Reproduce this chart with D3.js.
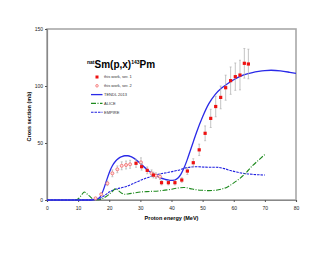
<!DOCTYPE html>
<html>
<head>
<meta charset="utf-8">
<script src="https://cdn.jsdelivr.net/npm/d3@7"></script>
<style>
  body { margin: 0; background: #fff; }
  text { font-family: "Liberation Sans", Arial, sans-serif; fill: #000; }
</style>
</head>
<body>
<div id="chart"></div>
<script>
// experimental data, this work (ser. 1 and ser. 2)
var ser1E   = [28.6, 30.4, 32.2, 34.2, 36.8, 39.0, 41.1, 43.3, 45.1, 47.0, 48.9, 50.8, 52.6, 54.2, 55.8, 57.4, 59.0, 60.5, 62.0, 63.4, 64.7];
var ser1Cs  = [32.2, 29.2, 26.0, 21.9, 15.2, 15.2, 15.2, 17.5, 25.4, 32.7, 44.0, 58.5, 71.6, 82.0, 90.0, 98.5, 104.7, 108.2, 109.6, 119.9, 119.3];
var ser1Err = [3.5, 3, 3, 2.5, 2, 2, 2, 2, 3, 3.5, 5, 6.5, 8, 9, 10, 11, 12, 12, 13, 13, 13];

var ser2E   = [15.6, 17.4, 19.4, 21.0, 22.6, 24.0, 25.4, 26.7, 30.2, 33.6, 35.0, 36.3];
var ser2Cs  = [1.5, 5.0, 14.6, 23.4, 26.9, 30.0, 30.7, 31.3, 33.0, 23.4, 21.3, 20.5];
var ser2Err = [0.5, 1, 2, 3, 3, 3.5, 3.5, 3.5, 4, 3, 2.5, 2.5];

// model curves
var tendlE  = [0, 10, 14, 15, 16, 17, 18, 19, 20, 21, 22, 23, 24, 25, 26, 27, 28, 30, 32, 34, 36, 38, 39.5, 41, 42, 43, 44, 45, 46, 47, 48, 50, 52, 54, 56, 58, 60, 63, 66, 68, 70, 72, 75, 78, 80];
var tendlCs = [0, 0, 0, 0.3, 0.8, 2.5, 8, 16, 24, 30, 34, 36.5, 38, 38.8, 38.8, 38, 36.5, 32, 27, 23, 20, 18, 17.3, 17.5, 19, 22.5, 28, 35, 43, 51, 59, 73, 84.5, 92.5, 98, 102, 105.5, 109.5, 111.8, 112.8, 113.5, 113.8, 113.3, 112, 111];

var aliceE  = [9, 10, 11, 12, 13, 14, 15, 16, 17, 18, 19, 20, 21, 22, 23, 24, 25, 26, 28, 30, 33, 36, 39, 42, 44, 46, 48, 50, 52, 54, 56, 58, 60, 62, 64, 66, 68, 70];
var aliceCs = [0, 1, 4, 7, 5, 2.5, 0.5, 0.2, 0.5, 1.5, 3, 5, 7.5, 10, 8, 6, 5, 5.3, 6.2, 7, 7.5, 8, 9, 10.5, 11, 10, 9, 8.5, 8.2, 8.5, 9.5, 11.5, 15, 19, 24, 30, 35, 40];

var empireE  = [0, 10, 14, 15, 16, 17, 18, 20, 22, 24.5, 27, 29, 31, 33, 35, 37.5, 40, 42, 45, 48, 51, 54.5, 57, 59, 61, 63, 66, 70];
var empireCs = [0, 0, 0, 0.3, 0.8, 1.5, 3, 7, 9.5, 11.1, 13.5, 16, 18.3, 20.3, 22, 23.5, 24.8, 26, 28.4, 29.2, 28.8, 28.7, 27.5, 25.8, 24.5, 23.4, 22.5, 21.9];

var xTicks = [0, 10, 20, 30, 40, 50, 60, 70, 80];
var yTicks = [0, 50, 100, 150];

var legendItems = [
    {label: "this work, ser. 1", kind: "ser1"},
    {label: "this work, ser. 2", kind: "ser2"},
    {label: "TENDL 2013", kind: "tendl"},
    {label: "ALICE", kind: "alice"},
    {label: "EMPIRE", kind: "empire"}
];

var width = 330, height = 255;
var margin = {top: 29, right: 34, bottom: 55, left: 47};

var svg = d3.select("#chart").append("svg")
    .attr("width", width)
    .attr("height", height);

var x = d3.scaleLinear().domain([0, 80]).range([margin.left, width - margin.right]);
var y = d3.scaleLinear().domain([0, 150]).range([height - margin.bottom, margin.top]);

// frame of plot area
svg.append("rect")
    .attr("x", x(0))
    .attr("y", y(150))
    .attr("width", x(80) - x(0))
    .attr("height", y(0) - y(150))
    .attr("fill", "none")
    .attr("stroke", "#a8a8a8")
    .attr("stroke-width", 1.6);

// axes
var xAxis = d3.axisBottom(x).tickValues(xTicks).tickSize(2).tickFormat(d3.format("d"));
var yAxis = d3.axisLeft(y).tickValues(yTicks).tickSize(2).tickFormat(d3.format("d"));

svg.append("g")
    .attr("transform", "translate(0," + y(0) + ")")
    .call(xAxis)
    .call(function(g) {
        g.select(".domain").attr("stroke", "#888").attr("stroke-width", 1.2);
        g.selectAll(".tick line").attr("stroke", "#555");
        g.selectAll("text").attr("font-size", 5).attr("dy", "0.9em").style("fill", "#222");
    });

svg.append("g")
    .attr("transform", "translate(" + x(0) + ",0)")
    .call(yAxis)
    .call(function(g) {
        g.select(".domain").attr("stroke", "#888").attr("stroke-width", 1.2);
        g.selectAll(".tick line").attr("stroke", "#555");
        g.selectAll("text").attr("font-size", 5).attr("x", -4).style("fill", "#222");
    });

// axis titles
svg.append("text")
    .attr("x", (x(0) + x(80)) / 2)
    .attr("y", 220)
    .attr("text-anchor", "middle")
    .attr("font-size", 5.5)
    .attr("font-weight", "bold")
    .text("Proton energy (MeV)");

svg.append("text")
    .attr("transform", "translate(31," + (y(75) + 2) + ") rotate(-90)")
    .attr("text-anchor", "middle")
    .attr("font-size", 5.5)
    .attr("font-weight", "bold")
    .text("Cross section (mb)");

// title
var title = svg.append("text")
    .attr("x", 87)
    .attr("y", 68)
    .attr("font-size", 10)
    .attr("font-weight", "600");
title.append("tspan").attr("font-size", 5).attr("dy", -3.8).text("nat");
title.append("tspan").attr("dy", 3.8).text("Sm(p,x)");
title.append("tspan").attr("font-size", 5).attr("dy", -3.8).text("143");
title.append("tspan").attr("dy", 3.8).text("Pm");

// model curves
var line = d3.line()
    .x(function(d) { return x(d[0]); })
    .y(function(d) { return y(d[1]); })
    .curve(d3.curveMonotoneX);

var plot = svg.append("g");

plot.append("path")
    .datum(d3.zip(empireE, empireCs))
    .attr("d", line)
    .attr("fill", "none")
    .attr("stroke", "#1f1fe0")
    .attr("stroke-width", 1.1)
    .attr("stroke-dasharray", "2.5,1");

plot.append("path")
    .datum(d3.zip(aliceE, aliceCs))
    .attr("d", line)
    .attr("fill", "none")
    .attr("stroke", "#1e8a1e")
    .attr("stroke-width", 1.1)
    .attr("stroke-dasharray", "5,1.5,1,1.5");

plot.append("path")
    .datum(d3.zip(tendlE, tendlCs))
    .attr("d", line)
    .attr("fill", "none")
    .attr("stroke", "#2a2ae8")
    .attr("stroke-width", 1.3);

// experimental points with error bars
function drawSeries(es, cs, errs, kind) {
    var data = d3.zip(es, cs, errs);
    var g = plot.append("g");
    g.selectAll("line.err")
        .data(data)
        .enter().append("line")
        .attr("class", "err")
        .attr("x1", function(d) { return x(d[0]); })
        .attr("x2", function(d) { return x(d[0]); })
        .attr("y1", function(d) { return y(d[1] - d[2]); })
        .attr("y2", function(d) { return y(d[1] + d[2]); })
        .attr("stroke", "#aaa")
        .attr("stroke-width", 0.7);
    ["cap1", "cap2"].forEach(function(c, i) {
        g.selectAll("line." + c)
            .data(data)
            .enter().append("line")
            .attr("class", c)
            .attr("x1", function(d) { return x(d[0]) - 1; })
            .attr("x2", function(d) { return x(d[0]) + 1; })
            .attr("y1", function(d) { return y(d[1] + (i ? -d[2] : d[2])); })
            .attr("y2", function(d) { return y(d[1] + (i ? -d[2] : d[2])); })
            .attr("stroke", "#aaa")
            .attr("stroke-width", 0.6);
    });
    if (kind == "ser1") {
        g.selectAll("rect")
            .data(data)
            .enter().append("rect")
            .attr("x", function(d) { return x(d[0]) - 1.6; })
            .attr("y", function(d) { return y(d[1]) - 1.6; })
            .attr("width", 3.2)
            .attr("height", 3.2)
            .attr("fill", "#ee1111");
    } else {
        g.selectAll("circle")
            .data(data)
            .enter().append("circle")
            .attr("cx", function(d) { return x(d[0]); })
            .attr("cy", function(d) { return y(d[1]); })
            .attr("r", 1.5)
            .attr("fill", "#ffe0e0")
            .attr("stroke", "#f27272")
            .attr("stroke-width", 0.9);
    }
}

drawSeries(ser2E, ser2Cs, ser2Err, "ser2");
drawSeries(ser1E, ser1Cs, ser1Err, "ser1");

// legend
var legend = svg.append("g");
legendItems.forEach(function(item, i) {
    var ly = 77 + i * 8.8;
    var row = legend.append("g");
    if (item.kind == "ser1") {
        row.append("rect").attr("x", 95.5).attr("y", ly - 1.5).attr("width", 3).attr("height", 3).attr("fill", "#ee1111");
    } else if (item.kind == "ser2") {
        row.append("circle").attr("cx", 97).attr("cy", ly).attr("r", 1.3)
            .attr("fill", "#ffe0e0").attr("stroke", "#f27272").attr("stroke-width", 0.8);
    } else {
        var st = {
            tendl: {c: "#2a2ae8", d: null, w: 1.3},
            alice: {c: "#1e8a1e", d: "5,1.5,1,1.5", w: 1.1},
            empire: {c: "#1f1fe0", d: "2.5,1", w: 1.1}
        }[item.kind];
        row.append("line")
            .attr("x1", 91).attr("x2", 102.5)
            .attr("y1", ly).attr("y2", ly)
            .attr("stroke", st.c)
            .attr("stroke-width", st.w)
            .attr("stroke-dasharray", st.d);
    }
    row.append("text")
        .attr("x", 104)
        .attr("y", ly + 1.4)
        .attr("font-size", 4)
        .style("fill", "#333")
        .text(item.label);
});
</script>
</body>
</html>
